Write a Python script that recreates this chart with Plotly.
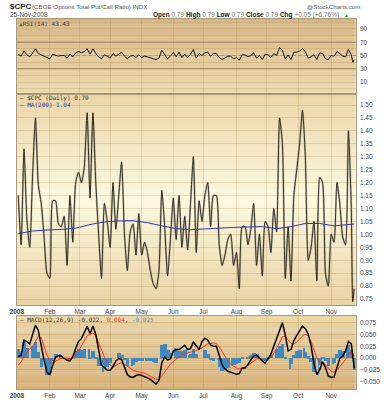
import pandas as pd
import plotly.graph_objects as go

# ---------------- data ----------------
bdays = pd.bdate_range("2008-01-02", "2008-11-25")
dates = list(bdays[:-2:2]) + list(bdays[-2:])
ma_dates = list(bdays[::10]) + [bdays[-1]]

cpc = [1.15, 0.96, 1.33, 1.06, 0.95, 1.23, 1.45, 1.19, 1.12, 0.99,
       0.85, 0.83, 1.13, 1.13, 1.04, 1.03, 1.07, 0.88, 1.15, 0.97,
       1.20, 1.24, 1.20, 1.26, 1.47, 1.14, 1.47, 1.20, 1.00, 0.83,
       1.12, 1.05, 0.95, 1.20, 1.02, 1.15, 1.28, 1.00, 0.86, 1.01,
       1.04, 0.92, 1.08, 0.92, 0.97, 0.93, 0.86, 0.81, 0.79, 0.86,
       1.17, 1.03, 0.84, 0.98, 1.14, 0.98, 1.15, 0.95, 1.07, 0.94,
       1.12, 1.30, 0.93, 1.13, 1.05, 1.15, 1.20, 1.03, 1.15, 1.15,
       0.96, 0.88, 0.92, 0.98, 1.00, 0.88, 0.93, 0.79, 1.03, 1.03,
       0.96, 1.02, 1.12, 0.88, 1.00, 0.84, 1.05, 1.03, 0.93, 1.10,
       1.01, 1.45, 1.35, 0.83, 1.03, 0.82, 1.15, 1.25, 1.35, 1.48,
       1.30, 0.90, 0.95, 1.05, 0.82, 1.22, 1.20, 0.85, 0.80, 1.00,
       0.97, 1.20, 1.12, 0.99, 0.96, 1.40, 1.10, 0.74, 0.79]

ma200 = [1.003, 1.013, 1.017, 1.019, 1.024, 1.038, 1.048, 1.052, 1.053, 1.045,
         1.033, 1.022, 1.018, 1.020, 1.024, 1.027, 1.028, 1.030, 1.022, 1.030,
         1.042, 1.042, 1.033, 1.040, 1.040]

rsi = [52, 49, 57, 51, 48, 54, 60, 53, 51, 48,
       46, 45, 52, 51, 49, 50, 50, 46, 52, 48,
       54, 56, 54, 56, 60, 52, 60, 53, 48, 45,
       51, 49, 46, 53, 49, 52, 55, 49, 45, 49,
       50, 47, 51, 47, 49, 48, 46, 45, 44, 46,
       58, 51, 45, 49, 55, 48, 55, 47, 52, 47,
       52, 59, 46, 53, 50, 54, 55, 49, 53, 53,
       47, 44, 46, 49, 49, 45, 47, 43, 51, 51,
       48, 50, 54, 46, 50, 44, 52, 51, 47, 53,
       50, 62, 58, 45, 51, 44, 55, 55, 57, 60,
       56, 46, 48, 51, 44, 54, 53, 45, 44, 50,
       49, 56, 53, 49, 48, 59, 51, 40, 43.43]

macd = [0.004, 0.005, 0.038, 0.035, 0.030, 0.050, 0.070, 0.058, 0.025, -0.005,
        -0.030, -0.035, -0.016, 0.002, 0.005, 0.004, -0.001, -0.005, -0.006, 0.003,
        0.020, 0.035, 0.041, 0.055, 0.067, 0.052, 0.068, 0.050, 0.015, -0.015,
        -0.020, -0.026, -0.026, -0.018, -0.006, -0.001, -0.003, -0.018, -0.035, -0.040,
        -0.041, -0.037, -0.035, -0.037, -0.039, -0.042, -0.045, -0.050, -0.055, -0.048,
        -0.010, 0.002, -0.004, -0.002, 0.015, 0.018, 0.018, 0.022, 0.027, 0.018,
        0.020, 0.034, 0.026, 0.018, 0.035, 0.042, 0.038, 0.028, 0.025, 0.025,
        0.006, -0.014, -0.023, -0.028, -0.030, -0.032, -0.034, -0.033, -0.021, -0.021,
        -0.014, -0.004, 0.004, 0.006, -0.001, -0.006, -0.011, -0.002, 0.008, 0.025,
        0.040, 0.058, 0.075, 0.049, 0.015, 0.018, 0.037, 0.048, 0.058, 0.068,
        0.062, 0.051, 0.026, -0.012, -0.035, -0.025, -0.008, -0.020, -0.038, -0.041,
        -0.040, -0.018, -0.001, 0.004, 0.015, 0.035, 0.030, 0.005, -0.022]

signal = [-0.015, -0.008, 0.003, 0.013, 0.019, 0.025, 0.035, 0.046, 0.043, 0.025,
          0.006, -0.004, -0.010, -0.007, -0.003, 0.000, 0.000, -0.001, -0.001, 0.000,
          0.006, 0.015, 0.025, 0.036, 0.047, 0.050, 0.053, 0.047, 0.032, 0.015,
          0.002, -0.008, -0.015, -0.018, -0.016, -0.012, -0.010, -0.013, -0.018, -0.023,
          -0.026, -0.028, -0.029, -0.030, -0.032, -0.035, -0.038, -0.042, -0.045, -0.046,
          -0.038, -0.028, -0.020, -0.013, -0.007, -0.002, 0.003, 0.007, 0.009, 0.011,
          0.012, 0.015, 0.017, 0.018, 0.022, 0.026, 0.030, 0.031, 0.032, 0.030,
          0.024, 0.014, 0.003, -0.006, -0.013, -0.018, -0.021, -0.023, -0.022, -0.019,
          -0.016, -0.011, -0.006, -0.002, -0.001, -0.002, -0.004, -0.003, 0.002, 0.010,
          0.020, 0.032, 0.045, 0.046, 0.038, 0.031, 0.030, 0.034, 0.040, 0.047,
          0.050, 0.047, 0.035, 0.018, 0.000, -0.010, -0.010, -0.014, -0.022, -0.028,
          -0.030, -0.026, -0.018, -0.010, -0.003, 0.008, 0.013, 0.011, 0.004]

hist = [0.019, 0.013, 0.035, 0.022, 0.011, 0.025, 0.035, 0.012, -0.018, -0.030,
        -0.036, -0.031, -0.006, 0.009, 0.008, 0.004, -0.001, -0.004, -0.005, 0.003,
        0.014, 0.020, 0.016, 0.019, 0.020, 0.002, 0.015, 0.003, -0.017, -0.030,
        -0.022, -0.018, -0.011, 0.000, 0.010, 0.011, 0.007, -0.005, -0.017, -0.017,
        -0.015, -0.009, -0.006, -0.007, -0.007, -0.007, -0.007, -0.008, -0.010, -0.002,
        0.028, 0.030, 0.016, 0.011, 0.022, 0.020, 0.015, 0.015, 0.018, 0.007,
        0.008, 0.019, 0.009, 0.000, 0.013, 0.016, 0.008, -0.003, -0.007, -0.005,
        -0.018, -0.028, -0.026, -0.022, -0.017, -0.014, -0.013, -0.010, 0.001, -0.002,
        0.002, 0.007, 0.010, 0.008, 0.000, -0.004, -0.007, 0.001, 0.006, 0.015,
        0.020, 0.026, 0.030, 0.003, -0.023, -0.013, 0.007, 0.014, 0.018, 0.021,
        0.012, 0.004, -0.009, -0.030, -0.035, -0.015, 0.002, -0.006, -0.016, -0.013,
        -0.010, 0.008, 0.017, 0.014, 0.018, 0.027, 0.017, -0.006, -0.025]

month_ticks = ["2008-01-01", "2008-02-01", "2008-03-03", "2008-04-01", "2008-05-01",
               "2008-06-02", "2008-07-01", "2008-08-01", "2008-09-01", "2008-10-01",
               "2008-11-03"]
month_labels = ["<b>2008</b>", "Feb", "Mar", "Apr", "May", "Jun", "Jul", "Aug",
                "Sep", "Oct", "Nov"]
rsi_levels = [30, 70]
rsi_mid = 50

# ---------------- figure ----------------
W, H = 388, 400
def px_x(v): return v / W
def px_y(v): return 1 - v / H

xdom = [px_x(10), px_x(355)]
dom_rsi = [px_y(94), px_y(19)]
dom_main = [px_y(305), px_y(94)]
dom_macd = [px_y(389), px_y(316)]

fig = go.Figure()

fig.add_trace(go.Scatter(x=dates, y=rsi, mode="lines",
                         line=dict(color="#151515", width=1), xaxis="x", yaxis="y"))
fig.add_trace(go.Scatter(x=dates, y=cpc, mode="lines",
                         line=dict(color="rgba(120,112,90,0.45)", width=2,
                                   shape="spline", smoothing=0.6),
                         xaxis="x2", yaxis="y2"))
fig.add_trace(go.Scatter(x=dates, y=cpc, mode="lines",
                         line=dict(color="#111111", width=0.8,
                                   shape="spline", smoothing=0.6),
                         xaxis="x2", yaxis="y2"))
fig.add_trace(go.Scatter(x=ma_dates, y=ma200, mode="lines",
                         line=dict(color="#3434b4", width=1), xaxis="x2", yaxis="y2"))
fig.add_trace(go.Bar(x=dates, y=hist, width=2.5 * 86400000,
                     marker=dict(color="#3d8ac3", line=dict(width=0)),
                     xaxis="x3", yaxis="y3"))
fig.add_trace(go.Scatter(x=dates, y=signal, mode="lines",
                         line=dict(color="#ff2b1c", width=1), xaxis="x3", yaxis="y3"))
fig.add_trace(go.Scatter(x=dates, y=macd, mode="lines",
                         line=dict(color="#000000", width=1.5), xaxis="x3", yaxis="y3"))

grid = "rgba(165,130,75,0.26)"
border = "#a8987a"
tickfont = dict(family="Liberation Sans", size=6.5, color="#444444")

xcommon = dict(type="date", range=["2008-01-01", "2008-11-26"],
               rangebreaks=[dict(bounds=["sat", "mon"])],
               tickmode="array", tickvals=month_ticks, ticktext=month_labels,
               showgrid=True, gridcolor=grid, gridwidth=1, ticks="",
               showline=True, linecolor=border, linewidth=1, mirror=True,
               tickfont=tickfont, domain=xdom, zeroline=False)

ycommon = dict(side="right", showgrid=True, gridcolor=grid, gridwidth=1, ticks="",
               showline=True, linecolor=border, linewidth=1, mirror=True,
               tickfont=tickfont, zeroline=False, ticklabelstandoff=2)

fig.update_layout(
    width=W, height=H, margin=dict(l=0, r=0, t=0, b=0),
    paper_bgcolor="white", plot_bgcolor="rgba(0,0,0,0)", showlegend=False,
    bargap=0,
    xaxis=dict(xcommon, anchor="y", showticklabels=False),
    xaxis2=dict(xcommon, anchor="y2", matches="x"),
    xaxis3=dict(xcommon, anchor="y3", matches="x"),
    yaxis=dict(ycommon, domain=dom_rsi, range=[-8, 105], anchor="x",
               tickmode="array", tickvals=[10, 30, 50, 70, 90],
               minor=dict(tickmode="array", tickvals=[0, 20, 40, 60, 80, 100],
                          showgrid=True, gridcolor=grid, ticks="")),
    yaxis2=dict(ycommon, domain=dom_main, range=[0.727, 1.5425], anchor="x2",
                tick0=0.75, dtick=0.05, tickformat=".2f"),
    yaxis3=dict(ycommon, domain=dom_macd, range=[-0.0655, 0.089], anchor="x3",
                tick0=0, dtick=0.025, tickformat=".3f"),
)

# gradient backgrounds as horizontal bands
def hex2rgb(h):
    h = h.lstrip("#")
    return [int(h[i:i + 2], 16) for i in (0, 2, 4)]

def gradient(xref, yref, stops, n=40):
    shapes = []
    for i in range(n):
        f = (i + 0.5) / n
        c = hex2rgb(stops[0][1])
        for j in range(len(stops) - 1):
            if stops[j][0] <= f <= stops[j + 1][0]:
                a, b = stops[j], stops[j + 1]
                t = (f - a[0]) / (b[0] - a[0])
                ca, cb = hex2rgb(a[1]), hex2rgb(b[1])
                c = [round(ca[k] + (cb[k] - ca[k]) * t) for k in range(3)]
                break
        shapes.append(dict(type="rect", xref=xref, yref=yref, x0=0, x1=1,
                           y0=i / n, y1=min(1, (i + 1) / n + 0.003), layer="below",
                           line=dict(width=0), fillcolor="rgb(%d,%d,%d)" % tuple(c)))
    return shapes

shapes = []
shapes += gradient("x domain", "y domain", [(0, "#ecdaae"), (1, "#d9b684")])
shapes += gradient("x2 domain", "y2 domain",
                   [(0, "#e9d3a4"), (0.5, "#fcf9e0"), (1, "#ebd5a8")])
shapes += gradient("x3 domain", "y3 domain", [(0, "#d7b179"), (1, "#ead5a6")])
for lv in rsi_levels:
    shapes.append(dict(type="line", xref="x domain", yref="y", x0=0, x1=1, y0=lv, y1=lv,
                       line=dict(color="#8f8068", width=1), layer="below"))
shapes.append(dict(type="line", xref="x domain", yref="y", x0=0, x1=1, y0=rsi_mid, y1=rsi_mid,
                   line=dict(color="#9d978c", width=1, dash="dot"), layer="below"))
fig.update_layout(shapes=shapes)

sans = "Liberation Sans"
mono = "DejaVu Sans Mono"
ann = []
def A(text, x, y, size, family=sans, color="#333333", xanchor="left"):
    ann.append(dict(text=text, x=px_x(x), y=px_y(y), xref="paper", yref="paper",
                    xanchor=xanchor, yanchor="middle", showarrow=False,
                    font=dict(family=family, size=size, color=color)))

A("<b>$CPC</b>", 1, 6.5, 8, color="#222222")
A("(CBOE Options Total Put/Call Ratio) INDX", 23, 6.5, 6.2, color="#555555")
A("@StockCharts.com", 362, 6.5, 6.2, color="#555555", xanchor="right")
A("25-Nov-2008", 1, 15, 6.5, color="#444444")
g = "<span style='color:#777777'>%s</span>"
A("<b>Open</b> " + g % "0.79" + " <b>High</b> " + g % "0.79" + " <b>Low</b> " + g % "0.79" +
  " <b>Close</b> " + g % "0.79" + " <b>Chg</b> " + g % "+0.05 (+6.76%)", 340, 15, 6.5,
  color="#222222", xanchor="right")
A("▲", 341, 15, 5, color="#2a9a2a")
A("<span style='color:#2a8a2a'>▲</span>RSI(14) 43.43", 10.5, 23, 6, family=mono, color="#333333")
A("— $CPC (Daily) 0.79", 11, 97.5, 6, family=mono, color="#333333")
A("— MA(200) 1.04", 11, 104, 6, family=mono, color="#3434b4")
A("— MACD(12,26,9) -0.022, <span style='color:#ff3020'>0.004</span>, "
  "<span style='color:#4a90d0'>-0.025</span>", 11, 319.5, 6, family=mono, color="#333333")
fig.update_layout(annotations=ann)

fig.write_html("out.html")
